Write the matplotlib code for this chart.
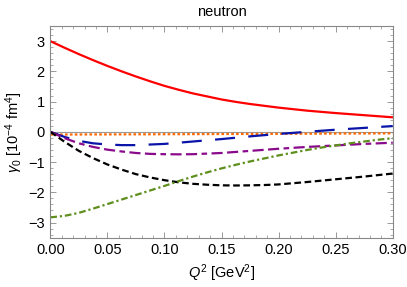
import matplotlib
matplotlib.use("Agg")
import matplotlib.pyplot as plt
from matplotlib.ticker import MultipleLocator

plt.rcParams["font.family"] = ["Liberation Sans", "DejaVu Sans"]
plt.rcParams["mathtext.fontset"] = "custom"
plt.rcParams["mathtext.rm"] = "Liberation Sans"
plt.rcParams["mathtext.it"] = "Liberation Sans:italic"

q2 = [0.0, 0.0125, 0.025, 0.0375, 0.05, 0.0625, 0.075, 0.0875, 0.1, 0.1125, 0.125,
      0.1375, 0.15, 0.1625, 0.175, 0.1875, 0.2, 0.2125, 0.225, 0.2375, 0.25, 0.2625,
      0.275, 0.2875, 0.3]
red = [3.00, 2.78, 2.57, 2.37, 2.18, 2.00, 1.83, 1.67, 1.52, 1.39, 1.27, 1.17, 1.07,
       0.99, 0.92, 0.86, 0.80, 0.75, 0.70, 0.66, 0.62, 0.585, 0.55, 0.515, 0.48]
orange = [-0.09, -0.089, -0.088, -0.086, -0.085, -0.084, -0.082, -0.081, -0.079, -0.078,
          -0.076, -0.075, -0.073, -0.071, -0.07, -0.068, -0.066, -0.064, -0.062, -0.06,
          -0.058, -0.056, -0.054, -0.052, -0.05]
blue = [0.0, -0.17, -0.30, -0.38, -0.42, -0.44, -0.44, -0.42, -0.40, -0.36, -0.32, -0.28,
        -0.24, -0.195, -0.15, -0.11, -0.07, -0.035, 0.0, 0.035, 0.07, 0.10, 0.13, 0.16, 0.19]
purple = [0.0, -0.21, -0.38, -0.50, -0.59, -0.65, -0.70, -0.73, -0.74, -0.745, -0.74,
          -0.72, -0.70, -0.665, -0.63, -0.595, -0.56, -0.53, -0.50, -0.475, -0.45, -0.425,
          -0.40, -0.38, -0.36]
black = [0.0, -0.33, -0.63, -0.87, -1.08, -1.25, -1.40, -1.51, -1.60, -1.67, -1.72, -1.75,
         -1.77, -1.775, -1.77, -1.76, -1.74, -1.70, -1.66, -1.615, -1.57, -1.525, -1.48,
         -1.43, -1.38]
green = [-2.83, -2.78, -2.68, -2.54, -2.39, -2.24, -2.09, -1.94, -1.79, -1.63, -1.48, -1.34,
         -1.21, -1.09, -0.98, -0.88, -0.78, -0.69, -0.60, -0.52, -0.45, -0.38, -0.32, -0.26,
         -0.21]

fig = plt.figure(figsize=(4.07, 2.87), dpi=100)
ax = fig.add_axes([0.1236, 0.172, 0.8414, 0.7374])

ax.axhline(0, color="#999999", lw=0.8, zorder=1)
ax.plot(q2, red, color="#ff0000", lw=1.6)
ax.plot(q2, orange, color="#ff6a00", lw=1.6, dashes=(1.2, 1.0))
ax.plot(q2, blue, color="#0a14a8", lw=1.6, dashes=(9, 6))
ax.plot(q2, purple, color="#8a0a8c", lw=1.6, dashes=(5, 2, 5, 2, 2.5, 2))
ax.plot(q2, black, color="#000000", lw=1.6, dashes=(3, 1.6))
ax.plot(q2, green, color="#5e8e1c", lw=1.6, dashes=(3, 1.3, 1, 1.3))

ax.set_xlim(0, 0.3)
ax.set_ylim(-3.5, 3.5)
ax.xaxis.set_major_locator(MultipleLocator(0.05))
ax.xaxis.set_minor_locator(MultipleLocator(0.01))
ax.yaxis.set_major_locator(MultipleLocator(1))
ax.yaxis.set_minor_locator(MultipleLocator(0.2))
ax.set_xticklabels([f"{v:.2f}" for v in ax.get_xticks()])
ax.set_yticklabels(["\u2212" + str(-int(v)) if v < 0 else str(int(v)) for v in ax.get_yticks()])
ax.tick_params(which="both", direction="in", top=True, right=True, color="#888888",
               labelsize=10.5, pad=4)
ax.tick_params(which="major", length=4, width=0.6)
ax.tick_params(which="minor", length=2, width=0.5)
for s in ax.spines.values():
    s.set_color("#888888")
    s.set_linewidth(0.8)

ax.set_title("neutron", fontsize=10.5, pad=7)
ax.set_xlabel(r"$Q^2$ [GeV$^2$]", fontsize=10.5)
ax.set_ylabel(r"$\gamma_0$ [10$^{-4}$ fm$^4$]", fontsize=10.5, labelpad=2)

fig.savefig("out.png", dpi=100)
